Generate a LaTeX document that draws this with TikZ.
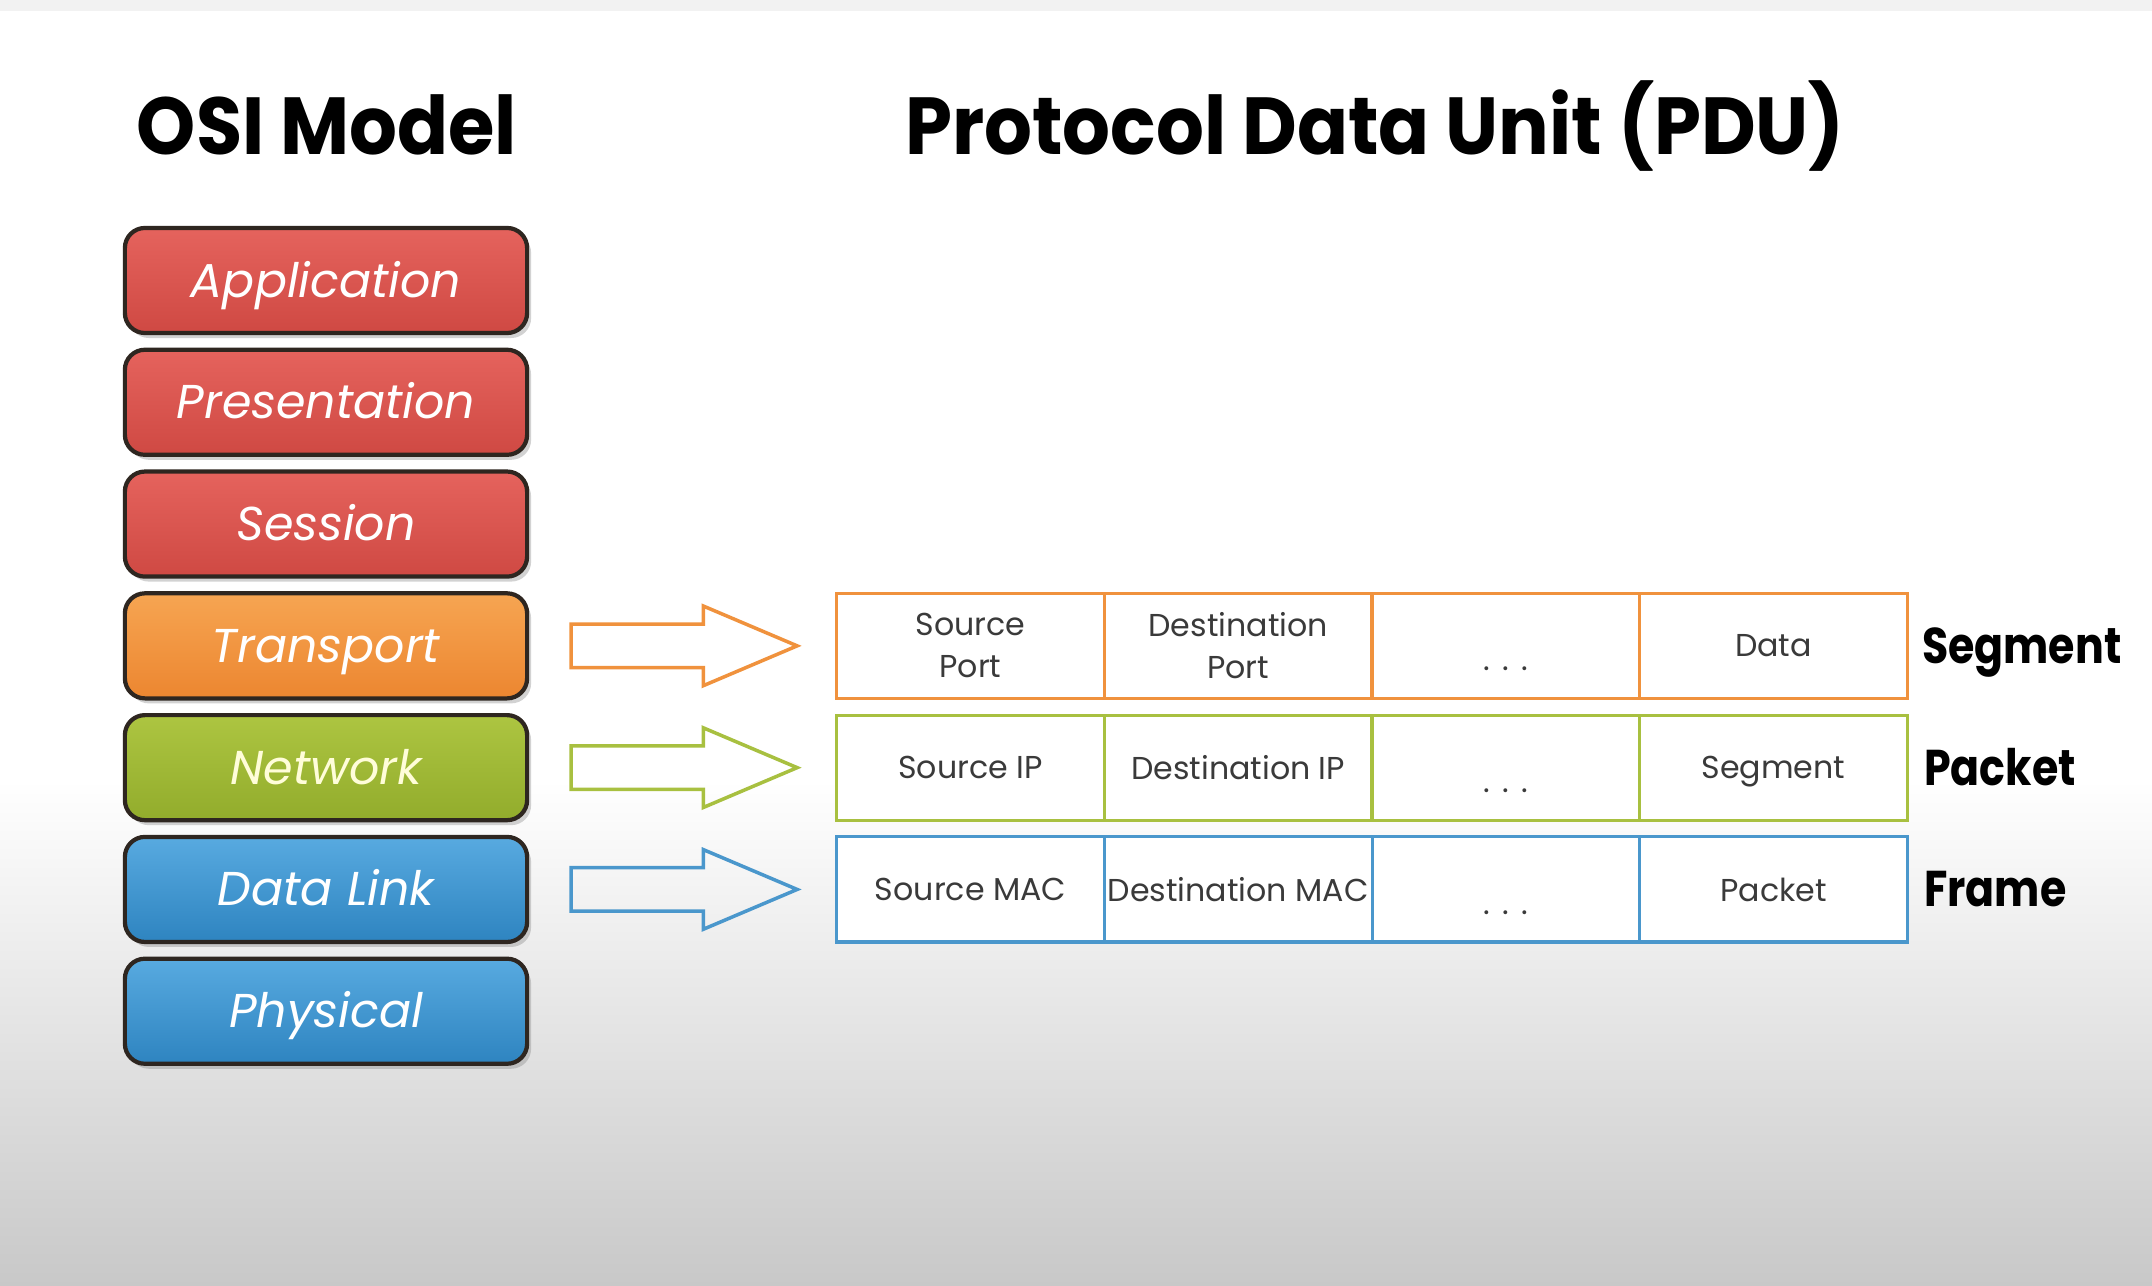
\documentclass[tikz,border=0pt]{standalone}
\usepackage{fontspec}
\setmainfont{Poppins}
\newfontfamily\headfont[FakeStretch=0.93]{Poppins}
\newfontfamily\labelfont[FakeStretch=0.85]{Poppins}
\usetikzlibrary{positioning,shapes.arrows,shadows}

\definecolor{layerline}{HTML}{2E2620}
\definecolor{redtop}{HTML}{E5635D}
\definecolor{redbot}{HTML}{CF4943}
\definecolor{orangetop}{HTML}{F6A552}
\definecolor{orangebot}{HTML}{EC8630}
\definecolor{greentop}{HTML}{ADC541}
\definecolor{greenbot}{HTML}{92AC2C}
\definecolor{bluetop}{HTML}{58AAE0}
\definecolor{bluebot}{HTML}{2E84C0}
\definecolor{ocol}{HTML}{F0923D}
\definecolor{gcol}{HTML}{A8C040}
\definecolor{bcol}{HTML}{4A97CC}
\definecolor{celltext}{HTML}{3A3A3A}
\definecolor{bgtop}{HTML}{F2F2F2}
\definecolor{bgbot}{HTML}{C8C8C8}

\newcommand{\celldots}{.\hspace{0.4em}.\hspace{0.4em}.}

\tikzset{
  layer/.style={rectangle, rounded corners=0.2cm, draw=layerline, line width=1.2pt,
    minimum width=4.02cm, minimum height=1.05cm, text=white,
    font=\itshape\fontsize{13.5}{16}\selectfont, text height=0.33cm, text depth=0pt,
    drop shadow={opacity=0.35, shadow xshift=0.04cm, shadow yshift=-0.05cm}},
  pduarrow/.style={single arrow, line width=1pt, inner xsep=0pt, inner ysep=0.2cm,
    minimum height=2.26cm, single arrow head extend=0.18cm, single arrow tip angle=46},
  cell/.style={rectangle, line width=0.9pt, outer sep=0pt, fill=white, inner xsep=1pt,
    minimum width=2.675cm, minimum height=1.05cm, text=celltext, align=center,
    font=\fontsize{9}{12}\selectfont},
  dots/.style={text height=0.5cm, text depth=0pt},
  pdulabel/.style={font=\labelfont\bfseries\fontsize{14.3}{16}\selectfont,
    text height=0.35cm, text depth=0pt, inner sep=0pt},
  title/.style={font=\headfont\bfseries\fontsize{23}{26}\selectfont, anchor=base, inner sep=0pt}
}

\begin{document}
\begin{tikzpicture}[x=0.01cm,y=-0.01cm]
% background
\fill[white] (0,0) rectangle (2152,1286);
\fill[bgtop] (0,0) rectangle (2152,11);
\shade[top color=white, bottom color=bgbot] (0,780) rectangle (2152,1286);
\useasboundingbox (0,0) rectangle (2152,1286);

% titles
\node[title] (osi) at (327,155) {OSI Model};
\node[title] (pdu) at (1375,155) {Protocol Data Unit (PDU)};

% OSI layers
\node[layer, top color=redtop, bottom color=redbot] (app) at (326,280.5) {Application};
\node[layer, top color=redtop, bottom color=redbot, below=0.125cm of app] (pres) {Presentation};
\node[layer, top color=redtop, bottom color=redbot, below=0.125cm of pres] (sess) {Session};
\node[layer, top color=orangetop, bottom color=orangebot, below=0.125cm of sess] (trans) {Transport};
\node[layer, top color=greentop, bottom color=greenbot, text=white!85!yellow, below=0.125cm of trans] (net) {Network};
\node[layer, top color=bluetop, bottom color=bluebot, below=0.125cm of net] (link) {Data Link};
\node[layer, top color=bluetop, bottom color=bluebot, below=0.125cm of link] (phys) {Physical};

% arrows
\node[pduarrow, draw=ocol, right=0.40cm of trans] (tarr) {};
\node[pduarrow, draw=gcol, right=0.40cm of net] (narr) {};
\node[pduarrow, draw=bcol, right=0.40cm of link] (larr) {};

% segment
\node[cell, draw=ocol, right=0.35cm of tarr] (tsrc) {Source\\Port};
\node[cell, draw=ocol, right=0pt of tsrc] (tdst) {Destination\\Port};
\node[cell, dots, draw=ocol, right=0pt of tdst] (tmid) {\celldots};
\node[cell, draw=ocol, right=0pt of tmid] (tdata) {Data};
\node[pdulabel, right=0.14cm of tdata] (seg) {Segment};

% packet
\node[cell, draw=gcol, right=0.35cm of narr] (nsrc) {Source IP};
\node[cell, draw=gcol, right=0pt of nsrc] (ndst) {Destination IP};
\node[cell, dots, draw=gcol, right=0pt of ndst] (nmid) {\celldots};
\node[cell, draw=gcol, text depth=0pt, right=0pt of nmid] (ndata) {Segment};
\node[pdulabel, right=0.16cm of ndata] (pkt) {Packet};

% frame
\node[cell, draw=bcol, right=0.35cm of larr] (lsrc) {Source MAC};
\node[cell, draw=bcol, right=0pt of lsrc] (ldst) {Destination MAC};
\node[cell, dots, draw=bcol, right=0pt of ldst] (lmid) {\celldots};
\node[cell, draw=bcol, right=0pt of lmid] (ldata) {Packet};
\node[pdulabel, right=0.16cm of ldata] (frm) {Frame};
\end{tikzpicture}
\end{document}
